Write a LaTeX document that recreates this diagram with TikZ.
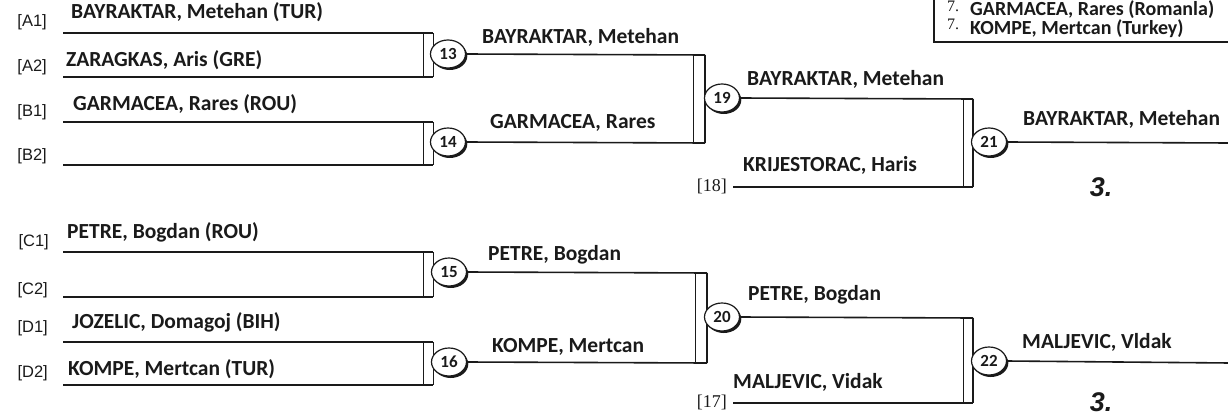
\documentclass[tikz,border=0pt]{standalone}
\usepackage{fontspec}
\setmainfont{Carlito}
\newfontfamily\lblfont{Liberation Sans}
\newfontfamily\serfont{Liberation Serif}
\usetikzlibrary{shapes.geometric,shadows}
\definecolor{ink}{HTML}{1A1A1A}
\tikzset{
  ln/.style={draw=ink, line width=1.6pt},
  thinv/.style={draw=ink, line width=1pt},
  thickv/.style={draw=ink, line width=2pt},
  mc/.style={ellipse, draw=ink, line width=1.2pt, fill=white, minimum width=35pt, minimum height=28pt, inner sep=0pt,
     font=\bfseries\fontsize{17}{17}\selectfont, text=ink,
     drop shadow={shadow xshift=1.8pt, shadow yshift=-2pt, fill=ink, opacity=1}},
  nm/.style={anchor=base west, inner sep=0pt, font=\bfseries\fontsize{21.5}{21.5}\selectfont, text=ink},
  lbl/.style={anchor=east, inner sep=0pt, font=\lblfont\fontsize{16.5}{16.5}\selectfont, text=ink},
  slbl/.style={anchor=east, inner sep=0pt, font=\serfont\fontsize{18}{18}\selectfont, text=ink},
  place/.style={anchor=center, inner sep=0pt, font=\lblfont\bfseries\itshape\fontsize{27}{27}\selectfont, text=ink},
  leg/.style={anchor=base west, inner sep=0pt, font=\bfseries\fontsize{20}{20}\selectfont, text=ink},
  legn/.style={anchor=base west, inner sep=0pt, font=\serfont\fontsize{16}{16}\selectfont, text=ink}
}
\begin{document}
\begin{tikzpicture}[x=1pt,y=-1pt]
\useasboundingbox[fill=white] (0,0) rectangle (1228,415);

% ---------- legend box (top right) ----------
\coordinate (lgTL) at (934,-4);
\coordinate (lgBL) at (934,42);
\coordinate (lgBR) at (1232,42);
\draw[draw=ink, line width=1.8pt] (lgTL) -- (lgBL) -- (lgBR);
\node[legn] (lg1n) at (947,11) {7.};
\node[leg] (lg1) at (970,15) {GARMACEA, Rares (Romanla)};
\node[legn] (lg2n) at (947,29) {7.};
\node[leg] (lg2) at (970,34) {KOMPE, Mertcan (Turkey)};

% ---------- entry labels ----------
\node[lbl] (lA1) at (47,22) {[A1]};
\node[lbl] (lA2) at (47,67) {[A2]};
\node[lbl] (lB1) at (47,112) {[B1]};
\node[lbl] (lB2) at (47,156) {[B2]};
\node[lbl] (lC1) at (49,242) {[C1]};
\node[lbl] (lC2) at (48,290) {[C2]};
\node[lbl] (lD1) at (48,328) {[D1]};
\node[lbl] (lD2) at (48,373) {[D2]};

% ---------- entry names ----------
\node[nm] (nA1) at (71,18) {BAYRAKTAR, Metehan (TUR)};
\node[nm] (nA2) at (66,66) {ZARAGKAS, Aris (GRE)};
\node[nm] (nB1) at (73,110) {GARMACEA, Rares (ROU)};
\node[nm] (nC1) at (67,238) {PETRE, Bogdan (ROU)};
\node[nm] (nD1) at (72,328) {JOZELIC, Domagoj (BIH)};
\node[nm] (nD2) at (68,375) {KOMPE, Mertcan (TUR)};

% ---------- first round lines ----------
\foreach \k/\y in {A1/33,A2/77,B1/122,B2/165,C1/252,C2/297,D1/342,D2/385}{
  \coordinate (s\k) at (63,\y);
  \coordinate (e\k) at (433,\y);
  \coordinate (b\k) at (423,\y);
  \draw[ln] (s\k) -- (e\k);
}
% first round brackets
\draw[thinv] (bA1) -- (bA2); \draw[thinv] (eA1) -- (eA2);
\draw[thinv] (bB1) -- (bB2); \draw[thinv] (eB1) -- (eB2);
\draw[thinv] (bC1) -- (bC2); \draw[thinv] (eC1) -- (eC2);
\draw[thinv] (bD1) -- (bD2); \draw[thinv] (eD1) -- (eD2);

\node[mc] (m13) at (448,54) {13};
\node[mc] (m14) at (448,142) {14};
\node[mc] (m15) at (449,272) {15};
\node[mc] (m16) at (449,362) {16};

% ---------- second round ----------
\coordinate (i19a) at (705,55);  \coordinate (j19a) at (693,55);
\coordinate (i19b) at (705,143); \coordinate (j19b) at (693,143);
\coordinate (i20a) at (707,273); \coordinate (j20a) at (695,273);
\coordinate (i20b) at (707,363); \coordinate (j20b) at (695,363);
\draw[ln] (m13.east) -- (i19a);
\draw[ln] (m14.east) -- (i19b);
\draw[ln] (m15.east) -- (i20a);
\draw[ln] (m16.east) -- (i20b);
\draw[thinv] (j19a) -- (j19b); \draw[thickv] (i19a) -- (i19b);
\draw[thinv] (j20a) -- (j20b); \draw[thickv] (i20a) -- (i20b);

\node[nm] (n13) at (482,43) {BAYRAKTAR, Metehan};
\node[nm] (n14) at (490,128) {GARMACEA, Rares};
\node[nm] (n15) at (488,260) {PETRE, Bogdan};
\node[nm] (n16) at (492,352) {KOMPE, Mertcan};

\node[mc] (m19) at (722,98) {19};
\node[mc] (m20) at (722,317) {20};

% ---------- third round ----------
\coordinate (i21a) at (973,99);  \coordinate (j21a) at (963,99);
\coordinate (i21b) at (973,187); \coordinate (j21b) at (963,187);
\coordinate (i22a) at (973,318); \coordinate (j22a) at (963,318);
\coordinate (i22b) at (973,403); \coordinate (j22b) at (963,403);
\draw[ln] (m19.east) -- (i21a);
\draw[ln] (m20.east) -- (i22a);
\node[slbl] (l18) at (727,186) {[18]};
\node[slbl] (l17) at (727,402) {[17]};
\coordinate (s18) at (733,187);
\coordinate (s17) at (733,403);
\draw[ln] (s18) -- (i21b);
\draw[ln] (s17) -- (i22b);
\draw[thinv] (j21a) -- (j21b); \draw[thickv] (i21a) -- (i21b);
\draw[thinv] (j22a) -- (j22b); \draw[thickv] (i22a) -- (i22b);

\node[nm] (n19) at (747,85) {BAYRAKTAR, Metehan};
\node[nm] (n18) at (743,171) {KRIJESTORAC, Haris};
\node[nm] (n20) at (748,300) {PETRE, Bogdan};
\node[nm] (n17) at (733,388) {MALJEVIC, Vidak};

\node[mc] (m21) at (989,142) {21};
\node[mc] (m22) at (989,361) {22};

% ---------- final lines ----------
\coordinate (f21) at (1230,143);
\coordinate (f22) at (1230,363);
\draw[ln] (m21.east) -- (f21);
\draw[ln] (m22.east) -- (f22);
\node[nm] (n21) at (1023,125) {BAYRAKTAR, Metehan};
\node[nm] (n22) at (1022,348) {MALJEVIC, Vldak};
\node[place] (p21) at (1101,187) {3.};
\node[place] (p22) at (1101,402) {3.};
\end{tikzpicture}
\end{document}
